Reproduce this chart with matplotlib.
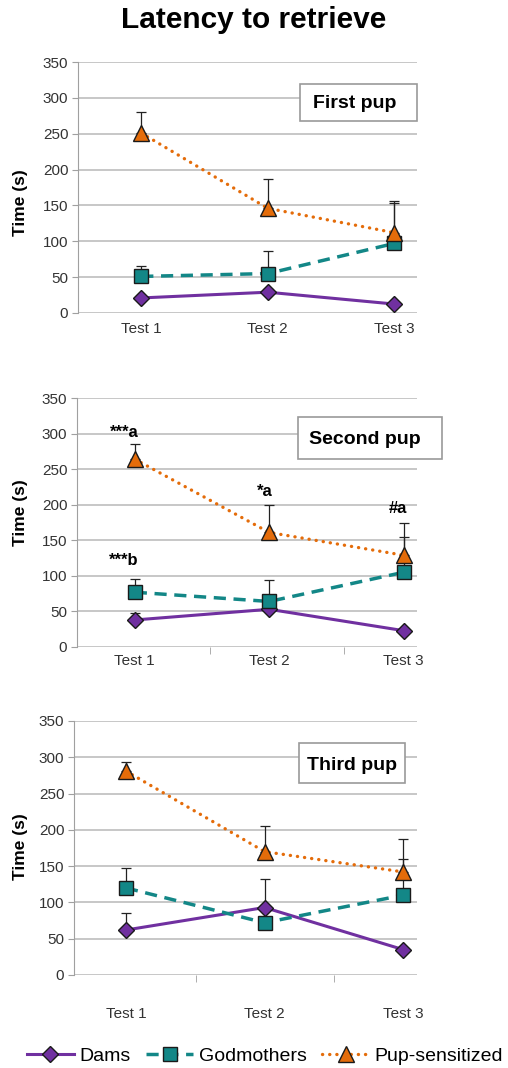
import numpy as np
import matplotlib
matplotlib.use("Agg")
import matplotlib.pyplot as plt
from matplotlib.patches import Rectangle

plt.rcParams['font.family'] = ['Liberation Sans', 'DejaVu Sans']

# data (mean, upper error)
tests = ['Test 1', 'Test 2', 'Test 3']
groups = ['Dams', 'Godmothers', 'Pup-sensitized']
panels = ['First pup', 'Second pup', 'Third pup']

dams_mean = [[21, 29, 12.5], [38, 53, 23], [62, 93, 35]]
dams_err = [[3, 4, 2], [10, 5, 2], [24, 39, 2]]
god_mean = [[51, 55, 97], [77, 64, 105], [120, 72, 110]]
god_err = [[15, 31.5, 56], [19, 30, 50], [27, 2, 50]]
pup_mean = [[251, 146, 112], [264, 161, 129], [281, 170, 142]]
pup_err = [[29, 41, 44], [21, 38, 46], [13, 36, 46]]

# significance marks on the second pup panel: (text, test index, y)
marks_text = ['***a', '***b', '*a', '#a']
marks_test = [0, 0, 1, 2]
marks_y = [302, 122, 218, 195]

W, H = 508, 1068
fig = plt.figure(figsize=(W / 100, H / 100), dpi=100)


def fx(px):
    return px / W


def fy(py):
    return 1 - py / H


# axes boxes in pixels: left, right, top, bottom, xlim, boundary ticks, label pad, ylabel y
layout = [
    dict(l=78, r=417, t=62, b=313, xlim=(-0.5, 2.18), minor=[], pad=6.5, ylab=203,
         box=(300, 417, 84, 121), txt=(355, 104)),
    dict(l=77, r=417, t=398, b=647, xlim=(-0.43, 2.10), minor=[0.56, 1.56], pad=5, ylab=513,
         box=(298, 442, 417, 459), txt=(365, 440)),
    dict(l=74, r=417, t=721, b=975, xlim=(-0.375, 2.10), minor=[0.505, 1.5], pad=23, ylab=847,
         box=(299, 405, 743, 783), txt=(352, 765)),
]

c_dams = '#7030A0'
c_god = '#138787'
c_pup = '#E46C0A'
x = np.arange(len(tests))

handles = []
for i, lay in enumerate(layout):
    ax = fig.add_axes([fx(lay['l']), fy(lay['b']), fx(lay['r'] - lay['l']), (lay['b'] - lay['t']) / H])
    ax.set_ylim(0, 350)
    ax.set_xlim(*lay['xlim'])
    ax.set_yticks(np.arange(0, 351, 50))
    ax.yaxis.grid(True, color='#BDBDBD', lw=1.2)
    ax.set_axisbelow(True)
    for s in ['top', 'right', 'bottom']:
        ax.spines[s].set_visible(False)
    ax.spines['left'].set_color('#A0A0A0')
    ax.tick_params(axis='y', length=4, color='#A0A0A0', labelsize=11, labelcolor='#333333', pad=3)
    ax.set_xticks(x)
    ax.set_xticklabels(tests)
    ax.tick_params(axis='x', which='major', length=0, labelsize=11, labelcolor='#333333', pad=lay['pad'])
    ax.set_xticks(lay['minor'], minor=True)
    ax.tick_params(axis='x', which='minor', length=5, color='#A0A0A0', direction='out')

    zero = np.zeros(3)
    ax.errorbar(x, dams_mean[i], yerr=[zero, dams_err[i]], fmt='none', ecolor='#222222',
                elinewidth=0.9, capsize=3.5, capthick=0.9, zorder=2)
    ax.errorbar(x, god_mean[i], yerr=[zero, god_err[i]], fmt='none', ecolor='#222222',
                elinewidth=0.9, capsize=3.5, capthick=0.9, zorder=2)
    ax.errorbar(x, pup_mean[i], yerr=[zero, pup_err[i]], fmt='none', ecolor='#222222',
                elinewidth=0.9, capsize=3.5, capthick=0.9, zorder=2)

    h1, = ax.plot(x, dams_mean[i], color=c_dams, lw=2.2, marker='D', ms=8.5,
                  mfc=c_dams, mec='#1a1a1a', mew=1, zorder=3, label=groups[0])
    h2, = ax.plot(x, god_mean[i], color=c_god, lw=2.5, ls=(0, (3.5, 2.2)), marker='s', ms=10,
                  mfc=c_god, mec='#1a1a1a', mew=1, zorder=4, label=groups[1])
    h3, = ax.plot(x, pup_mean[i], color=c_pup, lw=2.4, ls=(0, (0.05, 2.1)), dash_capstyle='round',
                  marker='^', ms=11, mfc=c_pup, mec='#1a1a1a', mew=1, zorder=5, label=groups[2])
    if i == 0:
        handles = [h1, h2, h3]

    # panel name box
    bl, br, bt, bb = lay['box']
    fig.patches.append(Rectangle((fx(bl), fy(bb)), fx(br - bl), (bb - bt) / H,
                                 transform=fig.transFigure, facecolor='white',
                                 edgecolor='#9A9A9A', lw=1.2, zorder=10))
    fig.text(fx(lay['txt'][0]), fy(lay['txt'][1]), panels[i], fontsize=14, fontweight='bold',
             ha='center', va='center', zorder=11)

    fig.text(fx(21), fy(lay['ylab']), 'Time (s)', rotation=90, fontsize=12.5,
             fontweight='bold', ha='center', va='center')

    if i == 1:
        offs = [-0.08, -0.08, -0.03, -0.04]
        for t, k, yv, o in zip(marks_text, marks_test, marks_y, offs):
            ax.text(k + o, yv, t, fontsize=12, fontweight='bold', ha='center', va='center')

fig.text(0.5, fy(20), 'Latency to retrieve', fontsize=21.5, fontweight='bold',
         ha='center', va='center')

fig.legend(handles=handles, loc='center left', bbox_to_anchor=(fx(27), fy(1056)),
           ncol=3, frameon=False, fontsize=14, handlelength=2.4, handletextpad=0.3,
           columnspacing=0.8, borderpad=0, borderaxespad=0)

fig.savefig('out.png', dpi=100)
